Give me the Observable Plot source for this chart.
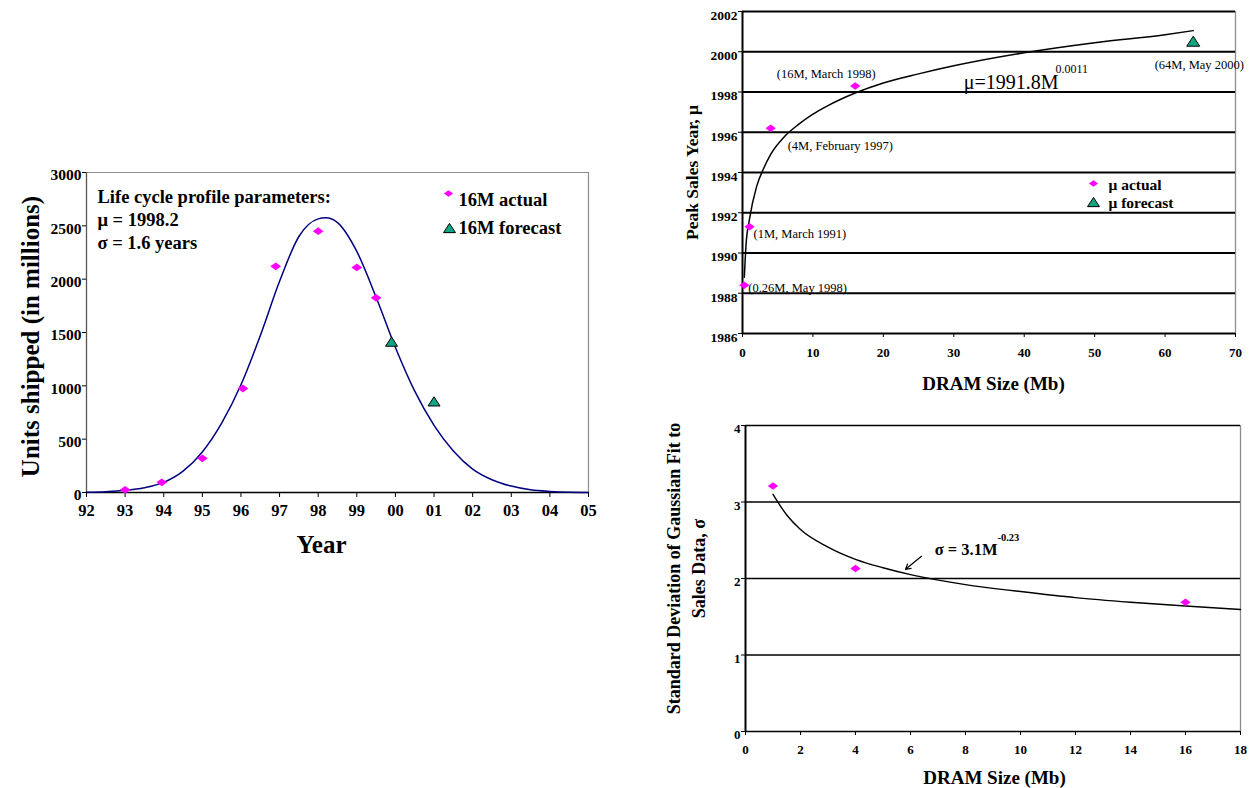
<!DOCTYPE html>
<html><head><meta charset="utf-8">
<script src="https://cdn.jsdelivr.net/npm/d3@7"></script>
<script src="https://cdn.jsdelivr.net/npm/@observablehq/plot@0.6"></script>
<style>
html,body{margin:0;padding:0;background:#fff;}
#page{position:relative;width:1253px;height:788px;overflow:hidden;background:#fff;}
.panel{position:absolute;}
.panel svg{display:block;max-width:none;}
</style></head><body><div id="page">
<div class="panel" id="left" style="left:0;top:150px;width:600px;height:420px"></div>
<div class="panel" id="mu" style="left:640px;top:0;width:613px;height:400px"></div>
<div class="panel" id="sigma" style="left:640px;top:400px;width:613px;height:388px"></div>
</div>
<script>
// ---------- Left panel data: 16M DRAM life cycle ----------
const yearTicks = [92, 93, 94, 95, 96, 97, 98, 99, 100, 101, 102, 103, 104, 105];
const unitTicks = [0, 500, 1000, 1500, 2000, 2500, 3000];
const actualYears = [93, 93.95, 95, 96.05, 96.9, 98, 99, 99.5];
const actualUnits = [25, 95, 320, 975, 2120, 2450, 2110, 1825];
const forecastYears = [99.9, 101];
const forecastUnits = [1410, 850];
const fitYears = [92, 92.5, 93, 93.5, 94, 94.5, 95, 95.5, 96, 96.5, 97, 97.5, 98, 98.2, 98.5, 99, 99.5, 100, 100.5, 101, 101.5, 102, 102.5, 103, 103.5, 104, 104.5, 105];
const fitUnits = [3, 8, 20, 45, 95, 200, 380, 650, 1010, 1470, 1980, 2400, 2565, 2575, 2530, 2260, 1830, 1360, 950, 630, 390, 220, 120, 60, 25, 10, 3, 1];
const lifeCycleNote = ["Life cycle profile parameters:", "μ = 1998.2", "σ = 1.6 years"];
const unitsLegend = ["16M actual", "16M forecast"];
const unitsTitle = "Units shipped (in millions)";
const yearTitle = "Year";

// ---------- Top-right data: peak sales year ----------
const muSizeTicks = [0, 10, 20, 30, 40, 50, 60, 70];
const muTicks = [1986, 1988, 1990, 1992, 1994, 1996, 1998, 2000, 2002];
const muSizes = [0.26, 1, 4, 16];
const muYears = [1988.4, 1991.3, 1996.2, 1998.3];
const muLabels = ["(0.26M, May 1998)", "(1M, March 1991)", "(4M, February 1997)", "(16M, March 1998)"];
const muForecastSizes = [64];
const muForecastYears = [2000.5];
const muForecastLabels = ["(64M, May 2000)"];
const muFitSizes = [0.26, 0.5, 1, 2, 3, 4, 6, 8, 10, 12, 16, 20, 25, 30, 40, 50, 60, 64];
const muFitYears = [1988.8, 1990.4, 1991.7, 1993.3, 1994.2, 1994.9, 1995.8, 1996.4, 1996.9, 1997.3, 1997.95, 1998.45, 1998.9, 1999.3, 1999.95, 2000.45, 2000.85, 2001.05];
const muFormula = "μ=1991.8M";
const muExponent = "0.0011";
const muLegend = ["μ actual", "μ forecast"];
const muTitle = "Peak Sales Year, μ";
const dramTitle = "DRAM Size (Mb)";

// ---------- Bottom-right data: standard deviation ----------
const sigmaSizeTicks = [0, 2, 4, 6, 8, 10, 12, 14, 16, 18];
const sigmaTicks = [0, 1, 2, 3, 4];
const sigmaSizes = [1, 4, 16];
const sigmaValues = [3.21, 2.13, 1.69];
const sigmaFitSizes = [1, 1.5, 2, 3, 4, 5, 6, 8, 10, 12, 14, 16, 18];
const sigmaFitValues = [3.1, 2.83, 2.64, 2.41, 2.25, 2.14, 2.05, 1.92, 1.83, 1.75, 1.69, 1.64, 1.595];
const sigmaFormula = "σ = 3.1M";
const sigmaExponent = "-0.23";
const sigmaArrow = [{x1: 6.4, y1: 2.29, x2: 5.82, y2: 2.12}];
const sigmaTitle = ["Standard Deviation of Gaussian Fit to", "Sales Data, σ"];

// ---------- styling ----------
const FONT = "'Liberation Serif','Times New Roman',Times,serif";
const MAGENTA = "#ff00ff";
const GREEN = "#12a582";
const baseStyle = {fontFamily: FONT, fontWeight: "bold", color: "black", background: "white", overflow: "visible"};

const wideDiamond = {draw(ctx, size) {
  const r = Math.sqrt(size / Math.PI), w = r * 1.1, h = r * 0.8;
  ctx.moveTo(0, -h); ctx.lineTo(w, 0); ctx.lineTo(0, h); ctx.lineTo(-w, 0); ctx.closePath();
}};
const triangle = {draw(ctx, size) {
  const r = Math.sqrt(size / Math.PI), w = r * 1.3;
  ctx.moveTo(0, -r * 1.1); ctx.lineTo(w, r * 0.9); ctx.lineTo(-w, r * 0.9); ctx.closePath();
}};
const zip = (xs, ys, extra) => xs.map((x, i) => ({x, y: ys[i], label: extra ? extra[i] : undefined}));
const tl = {frameAnchor: "top-left"};
// text placed relative to the frame's top-left corner
const note = (s, o) => Plot.text([s], {frameAnchor: "top-left", text: d => d, textAnchor: "start", lineAnchor: "top", ...o});
const title = (s, o) => Plot.text([s], {frameAnchor: "top-left", text: d => d, textAnchor: "middle", lineAnchor: "middle", ...o});

// ---------- Left panel ----------
const left = Plot.plot({
  width: 600, height: 420, marginLeft: 86, marginRight: 12, marginTop: 22, marginBottom: 78,
  x: {domain: [yearTicks[0], yearTicks[yearTicks.length - 1]], label: null},
  y: {domain: [unitTicks[0], unitTicks[unitTicks.length - 1]], label: null},
  style: baseStyle,
  marks: [
    Plot.ruleY([unitTicks[unitTicks.length - 1]], {stroke: "#8c8c8c", strokeWidth: 1.2}),
    Plot.ruleX([yearTicks[yearTicks.length - 1]], {stroke: "#8c8c8c", strokeWidth: 1.2}),
    Plot.ruleX([yearTicks[0]], {stroke: "#555", strokeWidth: 1.3}),
    Plot.ruleY([unitTicks[0]], {stroke: "black", strokeWidth: 1.5}),
    Plot.axisX(yearTicks, {tickSize: 5, tickPadding: 7, fontSize: 16.5, label: null, tickFormat: d => String(d % 100).padStart(2, "0")}),
    Plot.axisY(unitTicks, {tickSize: 4, fill: "none", label: null}),
    Plot.axisY(unitTicks, {tickSize: 4, tickPadding: 1, stroke: "none", fontSize: 15.5, dy: 3, label: null, tickFormat: "d"}),
    Plot.line(zip(fitYears, fitUnits), {x: "x", y: "y", stroke: "#000080", strokeWidth: 1.5, curve: "monotone-x"}),
    Plot.dot(zip(actualYears, actualUnits), {x: "x", y: "y", symbol: wideDiamond, r: 4.9, fill: MAGENTA, stroke: "none"}),
    Plot.dot(zip(forecastYears, forecastUnits), {x: "x", y: "y", symbol: triangle, r: 4.6, fill: GREEN, stroke: "black", strokeWidth: 1}),
    note(lifeCycleNote.join("\n"), {dx: 11, dy: 14, fontSize: 18.5, lineHeight: 1.25}),
    Plot.dot([0], {...tl, dx: 362, dy: 21, symbol: wideDiamond, r: 4.2, fill: MAGENTA, stroke: "none"}),
    Plot.dot([0], {...tl, dx: 363, dy: 56, symbol: triangle, r: 4.6, fill: GREEN, stroke: "black", strokeWidth: 1}),
    note(unitsLegend[0], {dx: 372, dy: 20, fontSize: 18.5}),
    note(unitsLegend[1], {dx: 372, dy: 48, fontSize: 18.5}),
    title(unitsTitle, {dx: -56, dy: 164, rotate: -90, fontSize: 25}),
    note(yearTitle, {textAnchor: "middle", dx: 235, dy: 363, fontSize: 25})
  ]
});
document.getElementById("left").append(left);

// ---------- Top-right panel ----------
const muPts = zip(muSizes, muYears, muLabels);
const muFc = zip(muForecastSizes, muForecastYears, muForecastLabels);
const ptLabel = (d, dx, dy, anchor) => Plot.text([d], {x: "x", y: "y", text: "label", dx, dy, textAnchor: anchor, lineAnchor: "top", fontSize: 12.5, fontWeight: "normal"});
const mu = Plot.plot({
  width: 613, height: 400, marginLeft: 102, marginRight: 18, marginTop: 11, marginBottom: 67,
  x: {domain: [muSizeTicks[0], muSizeTicks[muSizeTicks.length - 1]], label: null},
  y: {domain: [muTicks[0], muTicks[muTicks.length - 1]], label: null},
  style: baseStyle,
  marks: [
    Plot.ruleX([muSizeTicks[muSizeTicks.length - 1]], {stroke: "#8c8c8c", strokeWidth: 1.3}),
    Plot.ruleY(muTicks, {stroke: "black", strokeWidth: 1.8}),
    Plot.ruleX([muSizeTicks[0]], {stroke: "black", strokeWidth: 2}),
    Plot.axisX(muSizeTicks, {tickSize: 4, tickPadding: 10, fontSize: 13, label: null, tickFormat: "d"}),
    Plot.axisY(muTicks, {tickSize: 4, fill: "none", label: null}),
    Plot.axisY(muTicks, {tickSize: 4, tickPadding: 1, stroke: "none", fontSize: 13.5, dy: 4, label: null, tickFormat: "d"}),
    Plot.line(zip(muFitSizes, muFitYears), {x: "x", y: "y", stroke: "black", strokeWidth: 1.5, curve: "monotone-x"}),
    Plot.dot(muPts, {x: "x", y: "y", symbol: wideDiamond, r: 4.7, fill: MAGENTA, stroke: "none"}),
    Plot.dot(muFc, {x: "x", y: "y", symbol: triangle, r: 5, fill: GREEN, stroke: "black", strokeWidth: 1}),
    ptLabel(muPts[0], 4, -2, "start"),
    ptLabel(muPts[1], 4, 2, "start"),
    ptLabel(muPts[2], 17, 13, "start"),
    ptLabel(muPts[3], -29, -17, "middle"),
    ptLabel(muFc[0], 6, 18, "middle"),
    note(muFormula, {textAnchor: "end", dx: 316, dy: 63, fontSize: 20, fontWeight: "normal"}),
    note(muExponent, {dx: 313, dy: 52.5, fontSize: 12, fontWeight: "normal"}),
    Plot.dot([0], {...tl, dx: 351, dy: 172, symbol: wideDiamond, r: 4.2, fill: MAGENTA, stroke: "none"}),
    Plot.dot([0], {...tl, dx: 351, dy: 191, symbol: triangle, r: 4.6, fill: GREEN, stroke: "black", strokeWidth: 1}),
    note(muLegend[0], {dx: 366, dy: 167, fontSize: 15.5}),
    note(muLegend[1], {dx: 366, dy: 185, fontSize: 15.5}),
    title(muTitle, {dx: -50, dy: 161, rotate: -90, fontSize: 17.5}),
    note(dramTitle, {textAnchor: "middle", dx: 251, dy: 365, fontSize: 19})
  ]
});
document.getElementById("mu").append(mu);

// ---------- Bottom-right panel ----------
const sigma = Plot.plot({
  width: 613, height: 388, marginLeft: 105, marginRight: 13, marginTop: 25, marginBottom: 57,
  x: {domain: [sigmaSizeTicks[0], sigmaSizeTicks[sigmaSizeTicks.length - 1]], label: null},
  y: {domain: [sigmaTicks[0], sigmaTicks[sigmaTicks.length - 1]], label: null},
  style: baseStyle,
  marks: [
    Plot.ruleX([sigmaSizeTicks[sigmaSizeTicks.length - 1]], {stroke: "#8c8c8c", strokeWidth: 1.3}),
    Plot.ruleY(sigmaTicks, {stroke: "black", strokeWidth: 1.5}),
    Plot.ruleX([sigmaSizeTicks[0]], {stroke: "black", strokeWidth: 2}),
    Plot.axisX(sigmaSizeTicks, {tickSize: 4, tickPadding: 9, fontSize: 13, label: null, tickFormat: "d"}),
    Plot.axisY(sigmaTicks, {tickSize: 4, fill: "none", label: null}),
    Plot.axisY(sigmaTicks, {tickSize: 4, tickPadding: 1, stroke: "none", fontSize: 13, dy: 3.5, label: null, tickFormat: "d"}),
    Plot.line(zip(sigmaFitSizes, sigmaFitValues), {x: "x", y: "y", stroke: "black", strokeWidth: 1.4, curve: "monotone-x"}),
    Plot.dot(zip(sigmaSizes, sigmaValues), {x: "x", y: "y", symbol: wideDiamond, r: 4.7, fill: MAGENTA, stroke: "none"}),
    Plot.arrow(sigmaArrow, {x1: "x1", y1: "y1", x2: "x2", y2: "y2", stroke: "black", strokeWidth: 1.2, headLength: 7}),
    note(sigmaFormula, {textAnchor: "end", dx: 252, dy: 118, fontSize: 16.5}),
    note(sigmaExponent, {dx: 252, dy: 108, fontSize: 10.5}),
    title(sigmaTitle.join("\n"), {dx: -61, dy: 143, rotate: -90, fontSize: 18, lineHeight: 1.4}),
    note(dramTitle, {textAnchor: "middle", dx: 249, dy: 345, fontSize: 19})
  ]
});
document.getElementById("sigma").append(sigma);
</script>
</body></html>
